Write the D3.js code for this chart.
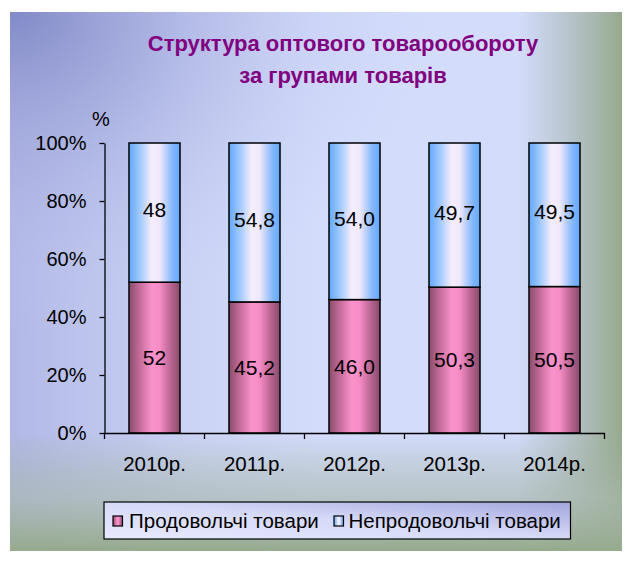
<!DOCTYPE html>
<html><head><meta charset="utf-8">
<script src="https://cdn.jsdelivr.net/npm/d3@7"></script>
<style>html,body{margin:0;padding:0;background:#fff;}svg{display:block;font-family:"Liberation Sans",Arial,sans-serif;}</style>
</head><body>
<svg id="c" width="630" height="561"></svg>
<script>
const years = ["2010р.","2011р.","2012р.","2013р.","2014р."];
const food = [52, 45.2, 46.0, 50.3, 50.5];
const nonFood = [48, 54.8, 54.0, 49.7, 49.5];
const foodLabels = ["52","45,2","46,0","50,3","50,5"];
const nonFoodLabels = ["48","54,8","54,0","49,7","49,5"];
const yTicks = [0,20,40,60,80,100];
const seriesNames = ["Продовольчі товари","Непродовольчі товари"];
const titleLines = ["Структура оптового товарообороту","за групами товарів"];

const svg = d3.select("#c");
const defs = svg.append("defs");
function lin(id, stops, x1="0",y1="0",x2="1",y2="0"){
  const g = defs.append("linearGradient").attr("id",id).attr("x1",x1).attr("y1",y1).attr("x2",x2).attr("y2",y2);
  stops.forEach(s=>g.append("stop").attr("offset",s[0]).attr("stop-color",s[1]).attr("stop-opacity",s[2]===undefined?1:s[2]));
}
lin("bgH",[[0,"#b2b8e6"],[0.3,"#ccd4f6"],[0.5,"#d4dcfc"],[0.83,"#d4dcfc"],[0.9,"#bcc8d4"],[1,"#96aa8e"]]);
lin("bgV",[[0,"#96aa8e",0],[0.78,"#9cae98",0],[0.9,"#a8b8ac",0.65],[1,"#96aa8e",1]],"0","0","0","1");
const rg = defs.append("radialGradient").attr("id","bgR").attr("cx","0").attr("cy","0").attr("r","0.7")
  .attr("gradientTransform","scale(1,0.85)");
rg.append("stop").attr("offset",0).attr("stop-color","#8088c6").attr("stop-opacity",0.95);
rg.append("stop").attr("offset",0.5).attr("stop-color","#a0a8dc").attr("stop-opacity",0.4);
rg.append("stop").attr("offset",1).attr("stop-color","#c8d0f4").attr("stop-opacity",0);
lin("pinkG",[[0,"#8a4c6c"],[0.2,"#c06a98"],[0.45,"#fc92cc"],[0.6,"#f68cc6"],[0.85,"#b0608a"],[1,"#884a6a"]]);
lin("blueG",[[0,"#62a8ff"],[0.2,"#9cc6fc"],[0.45,"#f6eefc"],[0.6,"#f0e8fc"],[0.85,"#86b8fc"],[1,"#62a8ff"]]);
lin("legG",[[0,"#e8eafe"],[0.5,"#d6daf8"],[1,"#a2a6dc"]],"0","1","1","0");

// background
const bx=10, by=12, bw=612, bh=539;
["bgH","bgR","bgV"].forEach(id=>svg.append("rect").attr("x",bx).attr("y",by).attr("width",bw).attr("height",bh).attr("fill",`url(#${id})`));

// title
svg.append("g").selectAll("text").data(titleLines).join("text")
  .attr("x",343).attr("y",(d,i)=>51+i*32).attr("text-anchor","middle")
  .attr("font-size",22).attr("font-weight","bold").attr("fill","#800080").text(d=>d);

const x = d3.scaleBand().domain(years).range([104.5,604.5]).paddingInner(0.49).paddingOuter(0.245);
const y = d3.scaleLinear().domain([0,100]).range([433,143]);

// bars
const data = years.map((yr,i)=>({yr, f:food[i], n:nonFood[i], fl:foodLabels[i], nl:nonFoodLabels[i]}));
const g = svg.append("g");
g.selectAll("rect.f").data(data).join("rect").attr("class","f")
  .attr("x",d=>x(d.yr)).attr("width",x.bandwidth())
  .attr("y",d=>y(d.f)).attr("height",d=>y(0)-y(d.f))
  .attr("fill","url(#pinkG)").attr("stroke","#000").attr("stroke-width",1.5);
g.selectAll("rect.n").data(data).join("rect").attr("class","n")
  .attr("x",d=>x(d.yr)).attr("width",x.bandwidth())
  .attr("y",d=>y(d.f+d.n)).attr("height",d=>y(d.f)-y(d.f+d.n))
  .attr("fill","url(#blueG)").attr("stroke","#000").attr("stroke-width",1.5);
g.selectAll("text.fl").data(data).join("text").attr("class","fl")
  .attr("x",d=>x(d.yr)+x.bandwidth()/2).attr("y",d=>y(d.f/2)).attr("dy","0.35em")
  .attr("text-anchor","middle").attr("font-size",21).attr("fill","#000").text(d=>d.fl);
g.selectAll("text.nl").data(data).join("text").attr("class","nl")
  .attr("x",d=>x(d.yr)+x.bandwidth()/2).attr("y",d=>y(d.f+d.n/2)).attr("dy","0.22em")
  .attr("text-anchor","middle").attr("font-size",21).attr("fill","#000").text(d=>d.nl);

// y axis
const ya = svg.append("g").attr("transform","translate(104.5,0)")
  .call(d3.axisLeft(y).tickValues(yTicks).tickFormat(d=>d+"%").tickSize(5).tickPadding(13).tickSizeOuter(0));
ya.selectAll("text").attr("font-size",20).attr("fill","#000").attr("font-family","Liberation Sans, Arial, sans-serif");
ya.selectAll("line,path").attr("stroke","#000").attr("stroke-width",1.3);
svg.append("text").attr("x",101).attr("y",126).attr("text-anchor","middle").attr("font-size",20).text("%");

// x axis
const xa = svg.append("g").attr("transform","translate(0,433)")
  .call(d3.axisBottom(x).tickSize(0).tickPadding(23));
xa.selectAll("text").attr("font-size",20.5).attr("fill","#000").attr("font-family","Liberation Sans, Arial, sans-serif");
xa.select("path.domain").attr("stroke","#000").attr("stroke-width",1.3);
const bounds = years.map(d=>x(d)-(x.step()-x.bandwidth())/2).concat([x.range()[1]]);
xa.selectAll("line.b").data(bounds).join("line").attr("class","b")
  .attr("x1",d=>d).attr("x2",d=>d).attr("y1",0).attr("y2",6).attr("stroke","#000").attr("stroke-width",1.3);

// legend
const lg = svg.append("g");
lg.append("rect").attr("x",104).attr("y",502).attr("width",466.5).attr("height",37)
  .attr("fill","url(#legG)").attr("stroke","#000").attr("stroke-width",1.2);
const legItems = [{name:seriesNames[0],fill:"url(#pinkG)",sx:113,tx:129},{name:seriesNames[1],fill:"url(#blueG)",sx:334,tx:348.5}];
lg.selectAll("rect.sw").data(legItems).join("rect").attr("class","sw")
  .attr("x",d=>d.sx).attr("y",516).attr("width",9.5).attr("height",10)
  .attr("fill",d=>d.fill).attr("stroke","#000").attr("stroke-width",1.2);
lg.selectAll("text").data(legItems).join("text").attr("x",d=>d.tx).attr("y",527.5)
  .attr("font-size",20.5).attr("fill","#000").text(d=>d.name);
</script>
</body></html>
